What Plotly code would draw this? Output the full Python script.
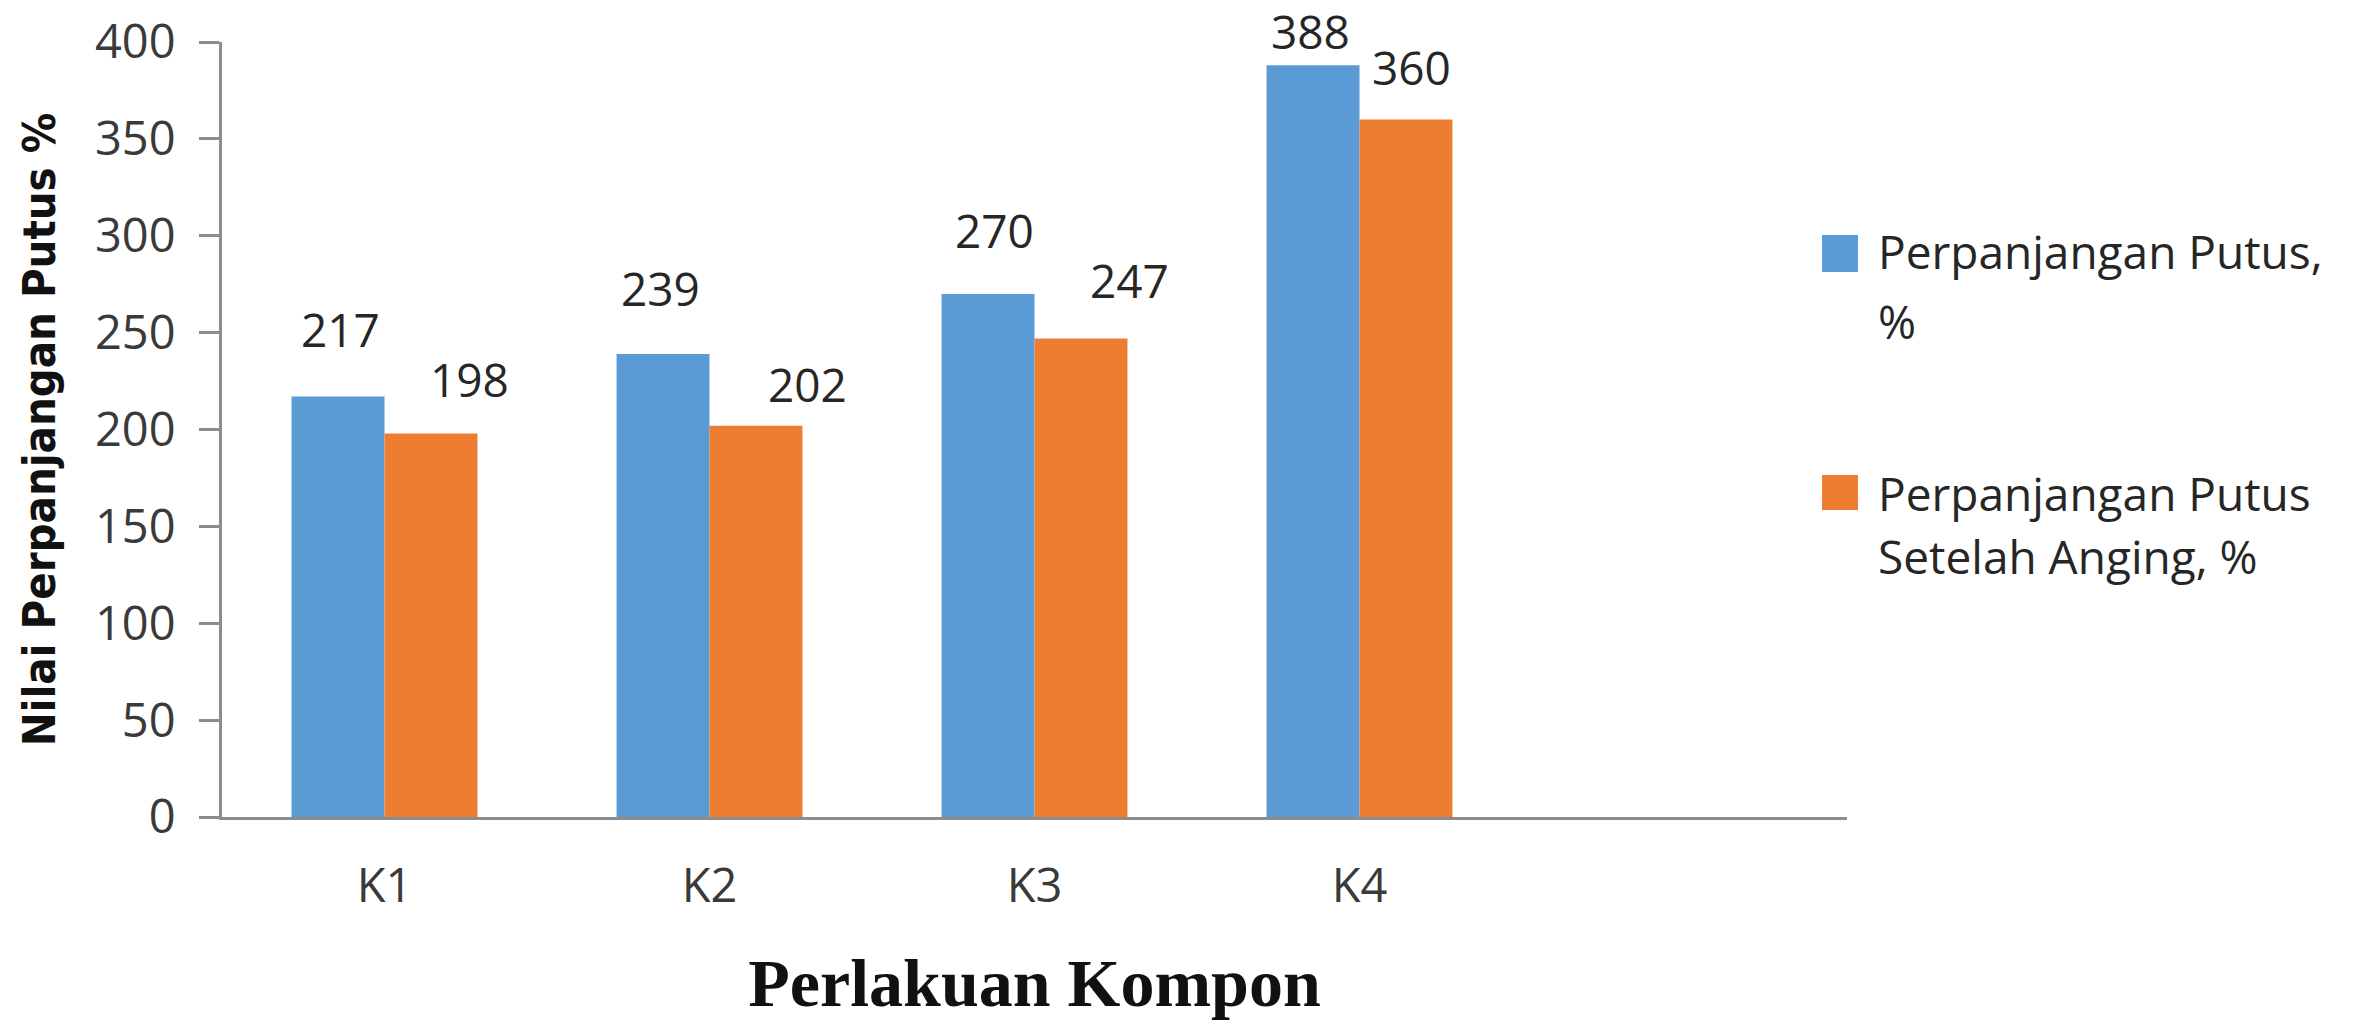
import plotly.graph_objects as go

# ---------------- data ----------------
categories = ["K1", "K2", "K3", "K4"]
putus = [217, 239, 270, 388]
putus_aging = [198, 202, 247, 360]
series_names = ["Perpanjangan Putus, %", "Perpanjangan Putus Setelah Anging, %"]
legend_lines = [["Perpanjangan Putus,", "%"], ["Perpanjangan Putus", "Setelah Anging, %"]]
y_ticks = [0, 50, 100, 150, 200, 250, 300, 350, 400]

# ---------------- layout constants ----------------
W, H = 2361, 1021
L, R, T, B = 222, 514, 42, 204
PW, PH = W - L - R, H - T - B
N_SLOTS = 5
BARGAP = 0.428
slot_px = PW / N_SLOTS
bar_px = slot_px * (1 - BARGAP) / 2

BLUE = "#5B9BD5"
ORANGE = "#ED7D31"
AXIS_GRAY = "#8C8C8C"
TXT = "#3A3A3A"
SANS = "Open Sans, DejaVu Sans, sans-serif"

# hand-placed data-label nudges in px: (dx from bar centre, rise above bar top)
blue_nudge = [(2, 68), (-3, 66), (6, 64), (-3, 34)]
orange_nudge = [(39, 54), (52, 42), (49, 58), (6, 53)]


def px_x(px):
    return (px - L) / PW


def px_y(py):
    return (T + PH - py) / PH


fig = go.Figure()
fig.add_trace(go.Bar(x=categories, y=putus, name=series_names[0],
                     marker=dict(color=BLUE, line=dict(width=0)), showlegend=False))
fig.add_trace(go.Bar(x=categories, y=putus_aging, name=series_names[1],
                     marker=dict(color=ORANGE, line=dict(width=0)), showlegend=False))

annotations = []
for vals, nudges, side in ((putus, blue_nudge, -1), (putus_aging, orange_nudge, 1)):
    for c, v, (dx, dy) in zip(categories, vals, nudges):
        annotations.append(dict(
            x=c, y=v, xref="x", yref="y", text=str(v), showarrow=False,
            xanchor="center", yanchor="middle",
            xshift=side * bar_px / 2 + dx, yshift=dy,
            font=dict(family=SANS, size=46, color="#262626")))

# manual legend (large square swatches), rows: colour, swatch top/bottom px, text line centres px
legend_rows = [(BLUE, 235, 272, (251, 321)), (ORANGE, 475, 510, (493, 556))]
shapes = []
for (col, y0, y1, centres), lines in zip(legend_rows, legend_lines):
    shapes.append(dict(type="rect", xref="paper", yref="paper",
                       x0=px_x(1822), x1=px_x(1858), y0=px_y(y1), y1=px_y(y0),
                       fillcolor=col, line=dict(width=0)))
    for yc, txt in zip(centres, lines):
        annotations.append(dict(x=px_x(1876), y=px_y(yc), xref="paper", yref="paper",
                                text=txt, showarrow=False, xanchor="left", yanchor="middle",
                                align="left", font=dict(family=SANS, size=46, color="#262626")))

fig.update_layout(
    width=W, height=H,
    margin=dict(l=L, r=R, t=T, b=B, autoexpand=False),
    paper_bgcolor="white", plot_bgcolor="white",
    barmode="group", bargap=BARGAP, bargroupgap=0,
    showlegend=False,
    annotations=annotations, shapes=shapes,
    xaxis=dict(
        type="category", range=[-0.5, N_SLOTS - 0.5],
        showline=True, linecolor=AXIS_GRAY, linewidth=3,
        ticks="", showgrid=False, zeroline=False,
        tickfont=dict(family=SANS, size=47, color=TXT),
        ticklabelstandoff=26,
        title=dict(text="Perlakuan Kompon", standoff=47,
                   font=dict(family="Liberation Serif, Times New Roman, serif",
                             size=68, color="#111111", weight="bold")),
        automargin=False,
    ),
    yaxis=dict(
        range=[0, 400], tickvals=y_ticks,
        showline=True, linecolor=AXIS_GRAY, linewidth=3,
        ticks="outside", ticklen=20, tickwidth=3, tickcolor=AXIS_GRAY,
        showgrid=False, zeroline=False,
        tickfont=dict(family=SANS, size=47, color=TXT),
        ticklabelstandoff=14,
        title=dict(text="Nilai Perpanjangan Putus %", standoff=26,
                   font=dict(family="Liberation Sans Narrow, DejaVu Sans Condensed, Arial Narrow, sans-serif",
                             size=45, color="#111111", weight="bold")),
        automargin=False,
    ),
)

fig.write_html("out.html",
               config={"displayModeBar": False},
               post_script="document.body.style.margin='0';document.body.style.overflow='hidden';")
